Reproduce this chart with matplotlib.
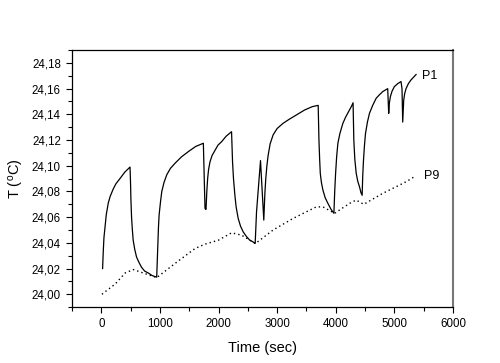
import matplotlib
matplotlib.use('Agg')
import matplotlib.pyplot as plt
from matplotlib.ticker import MultipleLocator

plt.rcParams['font.family'] = ['Liberation Sans', 'DejaVu Sans']

# ── 데이터 ────────────────────────────────────────────────────────────
p1_t = [22, 34, 45, 62, 85, 119, 150, 204, 250, 318, 400, 490,
        499, 505, 516, 530, 544, 570, 601, 640, 686, 740, 799, 870, 945,
        964, 975, 986, 1010, 1032, 1070, 1117, 1180, 1259, 1370, 1485, 1610, 1741,
        1769, 1786,
        1800, 1814, 1830, 1854, 1890, 1939, 1990, 2052, 2130, 2222,
        2230, 2239, 2255, 2279, 2300, 2335, 2375, 2420, 2475, 2534, 2580, 2625,
        2648, 2716,
        2772,
        2790, 2806, 2825, 2846, 2880, 2931, 3000, 3101, 3200, 3328, 3469, 3600, 3700,
        3706, 3713, 3725, 3736, 3755, 3781, 3820, 3866, 3920, 3968,
        3982, 3997, 4015, 4036, 4070, 4121, 4170, 4235, 4265, 4295,
        4300, 4308, 4325, 4349, 4375, 4405, 4430, 4450,
        4460, 4473, 4490, 4507, 4540, 4575, 4630, 4689, 4740, 4801, 4850, 4886,
        4895, 4903,
        4915, 4932, 4960, 5000, 5060, 5113,
        5130, 5142,
        5150, 5159, 5175, 5199, 5240, 5284, 5330, 5370]
p1_T = [24.020, 24.034, 24.044, 24.052, 24.062, 24.071, 24.076, 24.082, 24.086, 24.090, 24.095, 24.099,
        24.086, 24.074, 24.060, 24.050, 24.042, 24.035, 24.029, 24.025, 24.021, 24.018, 24.0166, 24.0145, 24.0133,
        24.038, 24.052, 24.0616, 24.072, 24.080, 24.087, 24.093, 24.098, 24.102, 24.107, 24.111, 24.115, 24.1175,
        24.0668, 24.066,
        24.080, 24.090, 24.097, 24.103, 24.108, 24.112, 24.116, 24.1187, 24.123, 24.1265,
        24.115, 24.103, 24.090, 24.077, 24.068, 24.059, 24.053, 24.0486, 24.045, 24.042, 24.041, 24.0395,
        24.064, 24.104,
        24.0577,
        24.078, 24.090, 24.100, 24.108, 24.117, 24.124, 24.129, 24.133, 24.136, 24.1395, 24.1434, 24.146, 24.147,
        24.135, 24.120, 24.105, 24.094, 24.087, 24.081, 24.075, 24.0707, 24.066, 24.063,
        24.080, 24.094, 24.107, 24.1175, 24.125, 24.133, 24.138, 24.1434, 24.146, 24.149,
        24.138, 24.120, 24.105, 24.094, 24.088, 24.0836, 24.079, 24.077,
        24.092, 24.1044, 24.116, 24.125, 24.134, 24.1408, 24.147, 24.1525, 24.155, 24.1577, 24.159, 24.160,
        24.150, 24.1408,
        24.149, 24.1538, 24.158, 24.1616, 24.164, 24.1655,
        24.160, 24.134,
        24.143, 24.151, 24.156, 24.160, 24.164, 24.1668, 24.169, 24.171]

p9_t = [11, 238, 408, 549, 748, 947, 1259, 1599, 1769, 1995, 2222, 2392,
        2631, 2931, 3271, 3668, 3781, 3980, 4235, 4347, 4478, 4801, 5199, 5340]
p9_T = [24.000, 24.008, 24.0166, 24.0192, 24.016, 24.013, 24.024, 24.0356,
        24.039, 24.042, 24.0478, 24.046, 24.0395, 24.050, 24.059, 24.068,
        24.068, 24.063, 24.0707, 24.0733, 24.070, 24.0785, 24.0875, 24.0914]

xticks = [0, 1000, 2000, 3000, 4000, 5000, 6000]
yticks = [24.00, 24.02, 24.04, 24.06, 24.08, 24.10, 24.12, 24.14, 24.16, 24.18]
ytick_labels = ['24,00', '24,02', '24,04', '24,06', '24,08',
                '24,10', '24,12', '24,14', '24,16', '24,18']
# ─────────────────────────────────────────────────────────────────────────────

fig = plt.figure(figsize=(5.0, 3.63), dpi=100)
ax = fig.add_axes([0.144, 0.154, 0.762, 0.708])

ax.plot(p1_t, p1_T, color='black', lw=0.9)
ax.plot(p9_t, p9_T, color='black', lw=1.0, linestyle=(0, (1, 2.2)))

ax.text(5470, 24.170, 'P1', fontsize=9, va='center', ha='left')
ax.text(5500, 24.0924, 'P9', fontsize=9, va='center', ha='left')

ax.set_xlim(-500, 6000)
ax.set_ylim(23.99, 24.19)
ax.set_xticks(xticks)
ax.set_yticks(yticks)
ax.set_yticklabels(ytick_labels)
ax.xaxis.set_minor_locator(MultipleLocator(500))
ax.yaxis.set_minor_locator(MultipleLocator(0.01))

ax.tick_params(which='both', direction='out', top=False, right=False,
               labelsize=8.3, width=0.8)
ax.tick_params(which='major', length=4, pad=4)
ax.tick_params(which='minor', length=3)

for s in ax.spines.values():
    s.set_linewidth(0.9)
ax.spines['right'].set_color('#777777')
ax.spines['right'].set_linewidth(1.5)

ax.set_xlabel('Time (sec)', fontsize=10.5, labelpad=8)
ax.set_ylabel(r'T ($\mathregular{^o}$C)', fontsize=10.5, labelpad=4)

fig.savefig('out.png', dpi=100)
